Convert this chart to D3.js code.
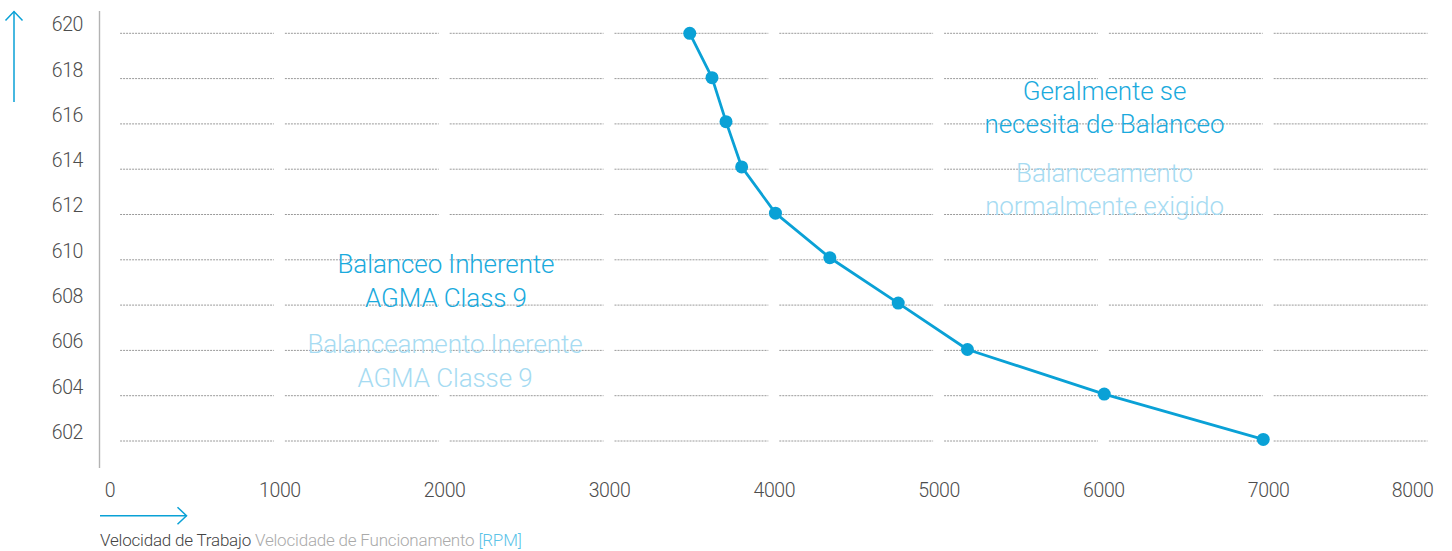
<!DOCTYPE html>
<html>
<head>
<meta charset="utf-8">
<script src="https://cdn.jsdelivr.net/npm/d3@7"></script>
<style>
  html, body { margin: 0; padding: 0; background: #fff; }
  svg { display: block; font-family: Roboto, "Open Sans", sans-serif; font-weight: 300; }
</style>
</head>
<body>
<svg id="chart" width="1452" height="551"></svg>
<script>
// ---- data ----
const xTicks = [0, 1000, 2000, 3000, 4000, 5000, 6000, 7000, 8000];
const yTicks = [620, 618, 616, 614, 612, 610, 608, 606, 604, 602];
const rpm    = [3490, 3625, 3710, 3805, 4010, 4340, 4755, 5175, 6005, 6970];
const values = [620, 618.04, 616.1, 614.1, 612.06, 610.09, 608.09, 606.04, 604.07, 602.07];
const leftLabelDark  = ["Balanceo Inherente", "AGMA Class 9"];
const leftLabelLight = ["Balanceamento Inerente", "AGMA Classe 9"];
const rightLabelDark  = ["Geralmente se", "necesita de Balanceo"];
const rightLabelLight = ["Balanceamento", "normalmente exigido"];
const xTitle = [
  {t: "Velocidad de Trabajo", c: "#444"},
  {t: " Velocidade de Funcionamento", c: "#aaa"},
  {t: " [RPM]", c: "#5cc3e8"}
];

const blue = "#0aa1d6";
const darkAnn = "#1aaadd";
const lightAnn = "#a6dbf2";

const svg = d3.select("#chart");
const x = d3.scaleLinear().domain([0, 8000]).range([114.6, 1433]);
const y = d3.scaleLinear().domain([602, 620]).range([441, 33.3]);

// gridlines (segmented per x interval)
const grid = svg.append("g");
yTicks.forEach(v => {
  for (let k = 0; k < xTicks.length - 1; k++) {
    grid.append("line")
      .attr("x1", x(xTicks[k]) + 5.5)
      .attr("x2", x(xTicks[k + 1]) - 5.5)
      .attr("y1", y(v)).attr("y2", y(v))
      .attr("stroke", "#9a9a9a")
      .attr("stroke-width", 1)
      .attr("stroke-dasharray", "2,1");
  }
});

// y axis line
svg.append("line")
  .attr("x1", 99.5).attr("x2", 99.5)
  .attr("y1", 11).attr("y2", 468)
  .attr("stroke", "#b3b3b3").attr("stroke-width", 1.4);

const tickStyle = sel => sel
  .attr("fill", "#4d4d4d")
  .style("font-family", "Roboto, sans-serif")
  .style("font-weight", 300)
  .style("font-size", "19.5px")
  .style("letter-spacing", "-0.4px");

// y tick labels via axis
const yAxis = d3.axisLeft(y).tickValues(yTicks).tickFormat(d3.format("d")).tickSize(0).tickPadding(16.5);
const yg = svg.append("g").attr("transform", "translate(99.5,0)").call(yAxis);
yg.select(".domain").remove();
yg.selectAll("text").attr("dy", null).attr("y", -2.6).call(tickStyle);

// x tick labels via axis
const xAxis = d3.axisBottom(x).tickValues(xTicks).tickFormat(d3.format("d")).tickSize(0).tickPadding(0);
const xg = svg.append("g").attr("transform", "translate(0,497)").call(xAxis);
xg.select(".domain").remove();
xg.selectAll("text")
  .attr("dy", null).attr("y", 0)
  .attr("text-anchor", (d, i) => (i === 0 || i === xTicks.length - 1) ? "end" : "middle")
  .call(tickStyle);

// arrows
const ar = svg.append("g").attr("fill", "none").attr("stroke", blue).attr("stroke-width", 1.5);
// up arrow
ar.append("line").attr("x1", 14).attr("y1", 102).attr("x2", 14).attr("y2", 11.5);
ar.append("polyline").attr("points", "5.5,20.5 14,11.5 22.5,20.5");
// right arrow
ar.append("line").attr("x1", 100).attr("y1", 515.7).attr("x2", 186.5).attr("y2", 515.7);
ar.append("polyline").attr("points", "177.5,507.2 186.5,515.7 177.5,524.2");

// x title
const xt = svg.append("text").attr("x", 100).attr("y", 546)
  .style("font-size", "17px").style("letter-spacing", "-0.2px");
xTitle.forEach(p => xt.append("tspan").attr("fill", p.c).text(p.t));

// annotations
function block(lines, cx, y0, color) {
  lines.forEach((l, i) => {
    svg.append("text").attr("x", cx).attr("y", y0 + i * 33.5)
      .attr("text-anchor", "middle").attr("fill", color)
      .style("font-size", "26px").style("letter-spacing", "-0.1px")
      .text(l);
  });
}
block(leftLabelDark, 446, 273, darkAnn);
block(leftLabelLight, 445, 353, lightAnn);
block(rightLabelDark, 1104.5, 99.5, darkAnn);
block(rightLabelLight, 1104.5, 181.5, lightAnn);

// line + points
const pts = rpm.map((r, i) => [r, values[i]]);
svg.append("path").datum(pts)
  .attr("fill", "none").attr("stroke", blue).attr("stroke-width", 2.8)
  .attr("stroke-linejoin", "round")
  .attr("d", d3.line().x(d => x(d[0])).y(d => y(d[1])));
svg.append("g").selectAll("circle").data(pts).join("circle")
  .attr("cx", d => x(d[0])).attr("cy", d => y(d[1])).attr("r", 6.5)
  .attr("fill", blue);
</script>
</body>
</html>
